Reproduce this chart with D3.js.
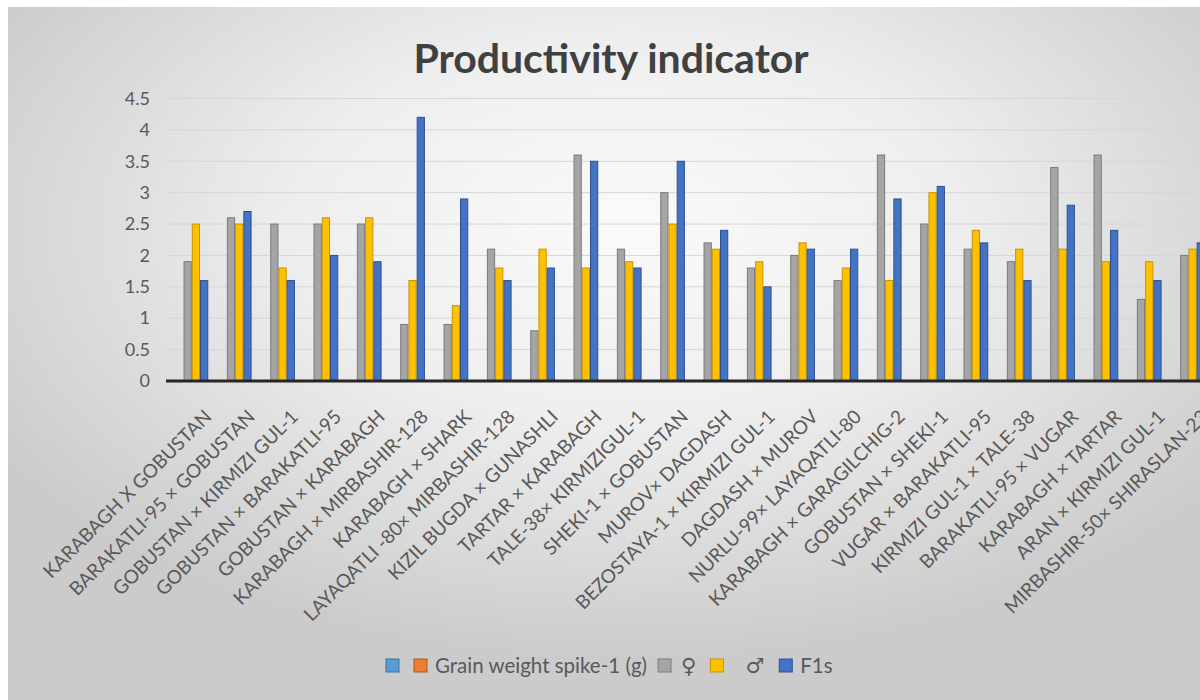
<!DOCTYPE html>
<html lang="en">

<head>
    <meta charset="UTF-8">
    <title>Productivity indicator</title>
    <script src="https://d3js.org/d3.v7.min.js"></script>
    <style>
        body {
            margin: 0;
            overflow: hidden;
            background: #fff;
        }

        text {
            font-family: Lato, "Open Sans", sans-serif;
        }
    </style>
</head>

<body>
    <script>
        // Crosses (x axis categories)
        var crosses = [
            "KARABAGH X GOBUSTAN", "BARAKATLI-95 × GOBUSTAN", "GOBUSTAN × KIRMIZI GUL-1",
            "GOBUSTAN × BARAKATLI-95", "GOBUSTAN × KARABAGH", "KARABAGH × MIRBASHIR-128",
            "KARABAGH × SHARK", "LAYAQATLI -80× MIRBASHIR-128", "KIZIL BUGDA × GUNASHLI",
            "TARTAR × KARABAGH", "TALE-38× KIRMIZIGUL-1", "SHEKI-1 × GOBUSTAN",
            "MUROV× DAGDASH", "BEZOSTAYA-1 × KIRMIZI GUL-1", "DAGDASH × MUROV",
            "NURLU-99× LAYAQATLI-80", "KARABAGH × GARAGILCHIG-2", "GOBUSTAN × SHEKI-1",
            "VUGAR × BARAKATLI-95", "KIRMIZI GUL-1 × TALE-38", "BARAKATLI-95 × VUGAR",
            "KARABAGH × TARTAR", "ARAN × KIRMIZI GUL-1", "MIRBASHIR-50× SHIRASLAN-23"
        ];

        // series names as in legend
        var seriesNames = ["", "Grain weight spike-1 (g)", "♀", "♂", "F1s"];

        // first two series have no values in the picture
        var blankSeries = crosses.map(() => null);
        var grainSeries = crosses.map(() => null);
        var femaleValues = [1.9, 2.6, 2.5, 2.5, 2.5, 0.9, 0.9, 2.1, 0.8, 3.6, 2.1, 3.0,
            2.2, 1.8, 2.0, 1.6, 3.6, 2.5, 2.1, 1.9, 3.4, 3.6, 1.3, 2.0];
        var maleValues = [2.5, 2.5, 1.8, 2.6, 2.6, 1.6, 1.2, 1.8, 2.1, 1.8, 1.9, 2.5,
            2.1, 1.9, 2.2, 1.8, 1.6, 3.0, 2.4, 2.1, 2.1, 1.9, 1.9, 2.1];
        var f1Values = [1.6, 2.7, 1.6, 2.0, 1.9, 4.2, 2.9, 1.6, 1.8, 3.5, 1.8, 3.5,
            2.4, 1.5, 2.1, 2.1, 2.9, 3.1, 2.2, 1.6, 2.8, 2.4, 1.6, 2.2];

        var yTicks = [0, 0.5, 1, 1.5, 2, 2.5, 3, 3.5, 4, 4.5];

        var colors = ["#5B9BD5", "#ED7D31", "#A5A5A5", "#FFC000", "#4472C4"];
        var strokes = ["#41719c", "#ae5a21", "#7a7a7a", "#c89400", "#2f528f"];

        var seriesValues = [blankSeries, grainSeries, femaleValues, maleValues, f1Values];

        (function() {
            var width = 1200,
                height = 700;

            var svg = d3.select("body").append("svg")
                .attr("width", width)
                .attr("height", height);

            // chart area background
            var defs = svg.append("defs");
            var grad = defs.append("radialGradient")
                .attr("id", "bg")
                .attr("cx", "52%").attr("cy", "32%")
                .attr("r", "62%");
            grad.append("stop").attr("offset", "0%").attr("stop-color", "#fafafa");
            grad.append("stop").attr("offset", "45%").attr("stop-color", "#eeeeee");
            grad.append("stop").attr("offset", "100%").attr("stop-color", "#cbcbcb");

            svg.append("rect")
                .attr("x", 8).attr("y", 7)
                .attr("width", width - 8).attr("height", height - 7)
                .attr("fill", "url(#bg)");

            var plotLeft = 166,
                plotRight = 1206,
                plotTop = 98.5,
                plotBottom = 381;

            var x = d3.scaleBand()
                .domain(crosses)
                .range([plotLeft, plotRight])
                .paddingInner(0.05)
                .paddingOuter(0.025);

            var xs = d3.scaleBand()
                .domain(d3.range(seriesNames.length))
                .range([0, x.bandwidth()]);

            var y = d3.scaleLinear()
                .domain([0, 4.5])
                .range([plotBottom, plotTop]);

            // gridlines
            svg.append("g")
                .selectAll("line")
                .data(yTicks.slice(1))
                .enter().append("line")
                .attr("x1", plotLeft).attr("x2", width)
                .attr("y1", d => y(d)).attr("y2", d => y(d))
                .attr("stroke", "#d6d6d6")
                .attr("stroke-width", 1);

            // y axis labels
            var yAxis = svg.append("g")
                .attr("transform", `translate(${plotLeft - 16},0)`)
                .call(d3.axisLeft(y).tickValues(yTicks).tickSize(0).tickPadding(0).tickFormat(d3.format("")));
            yAxis.select(".domain").remove();
            yAxis.selectAll("text")
                .attr("fill", "#595959")
                .style("font-size", "18px")
                .style("font-family", "Lato, sans-serif");

            // bars
            var groups = svg.append("g")
                .selectAll("g")
                .data(seriesValues)
                .enter().append("g")
                .attr("fill", (d, i) => colors[i])
                .attr("stroke", (d, i) => strokes[i]);

            groups.each(function(vals, si) {
                d3.select(this).selectAll("rect")
                    .data(vals.map((v, ci) => ({ v: v, c: crosses[ci] })).filter(d => d.v != null))
                    .enter().append("rect")
                    .attr("x", d => x(d.c) + xs(si) + 0.5)
                    .attr("width", xs.bandwidth() - 1)
                    .attr("y", d => y(d.v))
                    .attr("height", d => y(0) - y(d.v))
                    .attr("stroke-width", 1);
            });

            // x axis line
            svg.append("line")
                .attr("x1", plotLeft).attr("x2", width)
                .attr("y1", plotBottom).attr("y2", plotBottom)
                .attr("stroke", "#262626")
                .attr("stroke-width", 3);

            // x labels
            svg.append("g")
                .selectAll("text")
                .data(crosses)
                .enter().append("text")
                .attr("transform", d => `translate(${x(d) + x.bandwidth() / 2 + 25},${plotBottom + 37}) rotate(-45)`)
                .attr("text-anchor", "end")
                .attr("fill", "#595959")
                .style("font-size", "19px")
                .text(d => d);

            // title
            svg.append("text")
                .attr("x", 611)
                .attr("y", 73)
                .attr("text-anchor", "middle")
                .attr("fill", "#404040")
                .style("font-size", "41px")
                .style("font-weight", "bold")
                .text("Productivity indicator");

            // legend: gap before each swatch, gap swatch->label
            var swatchGap = [0, 15, 11, 14, 15];
            var labelGap = [0, 8, 10, 22, 8];
            var legend = svg.append("g").attr("transform", "translate(386,666)");
            var cursor = 0;
            seriesNames.forEach(function(name, i) {
                cursor += swatchGap[i];
                legend.append("rect")
                    .attr("x", cursor).attr("y", -7)
                    .attr("width", 13).attr("height", 13)
                    .attr("fill", colors[i])
                    .attr("stroke", strokes[i]);
                cursor += 13;
                if (name) {
                    var sym = name.length === 1;
                    cursor += labelGap[i];
                    var t = legend.append("text")
                        .attr("x", cursor)
                        .attr("y", 7)
                        .attr("fill", "#595959")
                        .style("font-size", sym ? "21px" : "20.5px")
                        .style("font-family", sym ? "'DejaVu Sans', sans-serif" : null)
                        .text(name);
                    cursor += t.node().getComputedTextLength();
                }
            });
        })();
    </script>
</body>

</html>
